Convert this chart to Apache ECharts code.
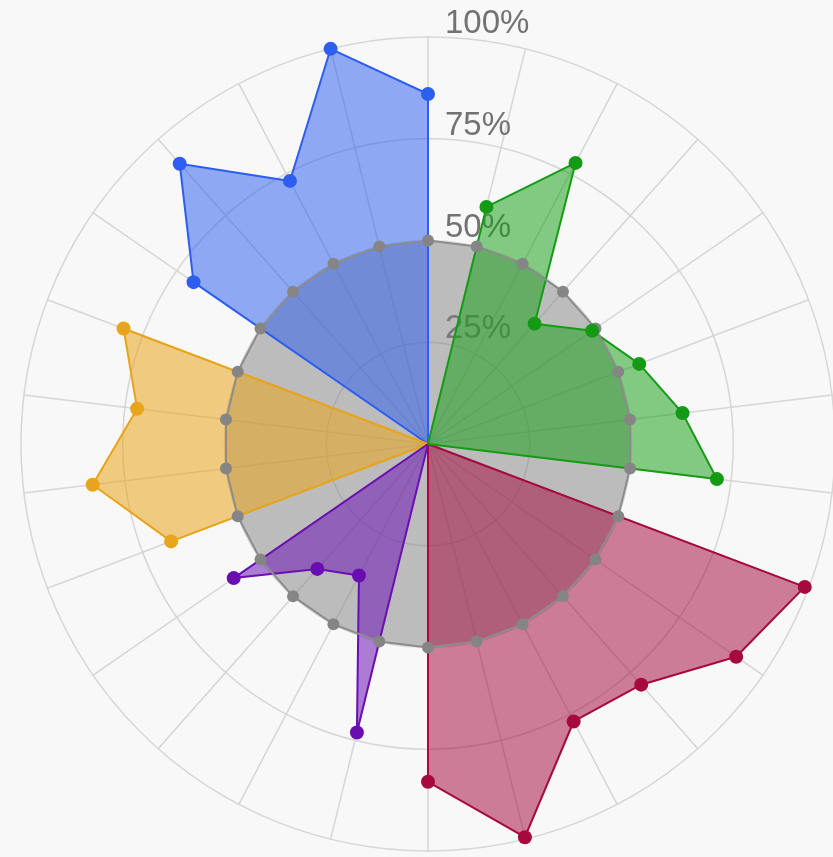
<!DOCTYPE html>
<html>
<head>
<meta charset="utf-8">
<script src="https://cdn.jsdelivr.net/npm/echarts@6/dist/echarts.min.js"></script>
<style>
html,body{margin:0;padding:0;background:#f8f8f8;}
#chart{width:833px;height:857px;}
</style>
</head>
<body>
<div id="chart"></div>
<script>
// 26 spokes, listed counter-clockwise starting at the top (ECharts radar order)
const spokeCount = 26;
const tickLabels = ['', '25%', '50%', '75%', '100%'];

const blueValues   = [86, 100, 73, 92, 70, 0, 0, 0, 0, 0, 0, 0, 0, 0, 0, 0, 0, 0, 0, 0, 0, 0, 0, 0, 0, 0];
const yellowValues = [0, 0, 0, 0, 0, 80, 72, 83, 67.5, 0, 0, 0, 0, 0, 0, 0, 0, 0, 0, 0, 0, 0, 0, 0, 0, 0];
const purpleValues = [0, 0, 0, 0, 0, 0, 0, 0, 0, 58, 41, 36.5, 73, 0, 0, 0, 0, 0, 0, 0, 0, 0, 0, 0, 0, 0];
const redValues    = [0, 0, 0, 0, 0, 0, 0, 0, 0, 0, 0, 0, 0, 83, 99.5, 77, 79, 92, 99, 0, 0, 0, 0, 0, 0, 0];
const greenValues  = [0, 0, 0, 0, 0, 0, 0, 0, 0, 0, 0, 0, 0, 0, 0, 0, 0, 0, 0, 71.5, 63, 55.5, 49, 39.5, 78, 60];
const grayValues   = [50, 50, 50, 50, 50, 50, 50, 50, 50, 50, 50, 50, 50, 50, 50, 50, 50, 50, 50, 50, 50, 50, 50, 50, 50, 50];

const colored = [
  { name: 'blue',   values: blueValues,   line: '#2d5ef0', fill: 'rgba(45,94,240,0.52)' },
  { name: 'yellow', values: yellowValues, line: '#e8a41c', fill: 'rgba(232,164,28,0.55)' },
  { name: 'purple', values: purpleValues, line: '#6a0db0', fill: 'rgba(110,20,180,0.55)' },
  { name: 'red',    values: redValues,    line: '#a5093e', fill: 'rgba(165,9,62,0.52)' },
  { name: 'green',  values: greenValues,  line: '#159a15', fill: 'rgba(21,160,21,0.52)' }
];

const CENTER = [428, 444];
const RADIUS = 407;
const GRID = '#d6d6d6';

const indicator = [];
for (let i = 0; i < spokeCount; i++) {
  const ind = { name: '', min: 0, max: 100 };
  if (i === 0) {
    ind.axisLabel = {
      show: true,
      formatter: (v, idx) => tickLabels[idx] !== undefined ? tickLabels[idx] : '',
      color: '#727272',
      fontSize: 33,
      lineHeight: 26,
      fontFamily: 'Liberation Sans, Arial, sans-serif',
      margin: -17,
      align: 'left',
      verticalAlign: 'bottom'
    };
  }
  indicator.push(ind);
}

const series = [];
// gray filled area (bottom)
series.push({
  type: 'radar', radarIndex: 0, symbol: 'none', z: 1,
  lineStyle: { width: 0, opacity: 0 },
  areaStyle: { color: 'rgba(128,128,128,0.5)', opacity: 1 },
  data: [{ value: grayValues, name: 'gray' }],
  silent: true
});
colored.forEach(s => {
  series.push({
    type: 'radar', radarIndex: 0, symbol: 'none', z: 2,
    lineStyle: { color: s.line, width: 2 },
    areaStyle: { color: s.fill, opacity: 1 },
    data: [{ value: s.values, name: s.name }],
    silent: true
  });
});
// gray outline and dots
series.push({
  type: 'radar', radarIndex: 0, symbol: 'circle', symbolSize: 12, z: 3,
  lineStyle: { color: '#8c8c8c', width: 2 },
  itemStyle: { color: '#858585' },
  data: [{ value: grayValues, name: 'gray' }],
  silent: true
});
// colored dots through polar scales (zeros have no dot)
colored.forEach(s => {
  const pts = [];
  s.values.forEach((v, i) => { if (v > 0) pts.push([v, i]); });
  series.push({
    type: 'scatter', coordinateSystem: 'polar', polarIndex: 0, z: 4,
    symbol: 'circle', symbolSize: 14,
    itemStyle: { color: s.line, opacity: 1 },
    data: pts, silent: true
  });
});

const chart = echarts.init(document.getElementById('chart'), null, { renderer: 'canvas' });
chart.setOption({
  backgroundColor: '#f8f8f8',
  animation: false,
  radar: {
    center: CENTER, radius: RADIUS, startAngle: 90, shape: 'circle', splitNumber: 4,
    indicator: indicator,
    axisName: { show: false },
    axisLine: { lineStyle: { color: GRID, width: 1.5 } },
    splitLine: { lineStyle: { color: GRID, width: 1.5 } },
    splitArea: { show: false },
    axisTick: { show: false },
    axisLabel: { show: false }
  },
  polar: { center: CENTER, radius: RADIUS },
  angleAxis: { type: 'value', min: 0, max: spokeCount, startAngle: 90, clockwise: false, show: false },
  radiusAxis: { type: 'value', min: 0, max: 100, show: false },
  series: series
});
</script>
</body>
</html>
